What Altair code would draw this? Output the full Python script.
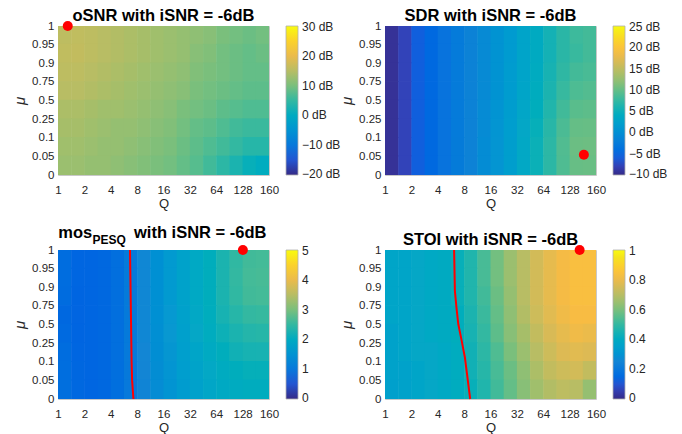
import altair as alt
import pandas as pd

# ---------------- data ----------------
Q_LABELS = ["1", "2", "4", "8", "16", "32", "64", "128", "160"]
MU_LABELS = ["0", "0.05", "0.1", "0.25", "0.5", "0.75", "0.9", "0.95", "1"]

# cell values: 8 mu-bands (top -> bottom), 16 half-steps along Q
OSNR = [
    [15.5, 15.8, 15.5, 15.0, 14.5, 14.0, 13.5, 13.0, 12.5, 12.0, 11.5, 11.0, 10.0, 9.5, 9.0, 9.5],
    [15.8, 16.0, 15.5, 15.0, 14.5, 14.0, 13.5, 13.0, 12.5, 12.0, 11.0, 10.5, 9.5, 9.0, 8.5, 9.0],
    [15.5, 15.5, 15.0, 14.5, 14.0, 13.5, 13.0, 12.5, 12.0, 11.5, 10.5, 10.0, 9.5, 9.0, 8.5, 8.5],
    [15.0, 15.0, 14.5, 14.0, 13.5, 13.0, 12.5, 12.0, 11.5, 11.0, 10.0, 9.5, 9.0, 8.5, 8.0, 8.0],
    [14.0, 14.0, 13.5, 13.0, 13.0, 12.5, 12.0, 11.5, 11.0, 10.0, 9.5, 9.0, 8.0, 7.5, 7.0, 7.0],
    [13.5, 13.5, 13.0, 12.5, 12.0, 12.0, 11.5, 11.0, 10.5, 9.5, 8.5, 8.0, 7.0, 6.0, 5.5, 5.5],
    [13.0, 13.0, 12.5, 12.0, 12.0, 11.5, 11.0, 10.5, 10.0, 9.0, 8.0, 7.0, 6.0, 5.0, 4.0, 4.0],
    [12.5, 12.5, 12.0, 12.0, 11.5, 11.0, 10.5, 10.0, 9.5, 8.5, 7.5, 6.0, 4.5, 3.0, 1.5, 0.5],
]
SDR = [
    [-9.3, -7.8, -5.8, -4.8, -3.6, -2.6, -1.6, -0.5, 0.5, 1.5, 2.8, 4.0, 5.5, 7.0, 8.0, 8.3],
    [-9.3, -7.8, -5.8, -4.8, -3.6, -2.6, -1.6, -0.5, 0.5, 1.5, 2.8, 4.0, 5.5, 7.0, 7.8, 8.3],
    [-9.3, -7.8, -5.8, -4.8, -3.6, -2.6, -1.6, -0.5, 0.5, 1.6, 2.9, 4.2, 5.8, 7.3, 8.3, 8.6],
    [-9.3, -7.8, -5.8, -4.8, -3.6, -2.6, -1.6, -0.5, 0.5, 1.7, 3.0, 4.4, 6.1, 7.7, 8.8, 9.1],
    [-9.3, -7.8, -5.8, -4.8, -3.6, -2.6, -1.6, -0.4, 0.6, 1.8, 3.2, 4.7, 6.5, 8.2, 9.4, 9.6],
    [-9.3, -7.8, -5.8, -4.8, -3.6, -2.6, -1.5, -0.4, 0.7, 1.9, 3.4, 5.0, 6.9, 8.7, 10.0, 10.1],
    [-9.3, -7.8, -5.8, -4.8, -3.6, -2.5, -1.5, -0.3, 0.8, 2.0, 3.5, 5.2, 7.1, 9.0, 10.3, 10.4],
    [-9.3, -7.8, -5.8, -4.8, -3.6, -2.5, -1.5, -0.3, 0.8, 2.0, 3.5, 5.2, 7.1, 8.9, 10.1, 10.2],
]
PESQ = [
    [0.80, 0.68, 0.68, 0.72, 0.85, 1.05, 1.30, 1.45, 1.62, 1.80, 1.95, 2.10, 2.30, 2.48, 2.60, 2.62],
    [0.80, 0.68, 0.68, 0.72, 0.85, 1.05, 1.30, 1.45, 1.62, 1.80, 1.95, 2.10, 2.30, 2.50, 2.62, 2.64],
    [0.78, 0.67, 0.68, 0.72, 0.85, 1.05, 1.30, 1.45, 1.62, 1.80, 1.95, 2.10, 2.30, 2.48, 2.60, 2.62],
    [0.72, 0.66, 0.68, 0.72, 0.85, 1.05, 1.30, 1.45, 1.60, 1.78, 1.93, 2.08, 2.25, 2.40, 2.50, 2.52],
    [0.75, 0.67, 0.68, 0.72, 0.85, 1.05, 1.30, 1.44, 1.58, 1.75, 1.90, 2.04, 2.18, 2.30, 2.38, 2.40],
    [0.80, 0.68, 0.68, 0.72, 0.85, 1.04, 1.28, 1.42, 1.56, 1.72, 1.86, 1.98, 2.10, 2.20, 2.25, 2.26],
    [0.82, 0.70, 0.68, 0.72, 0.84, 1.03, 1.26, 1.40, 1.54, 1.70, 1.82, 1.92, 2.03, 2.10, 2.14, 2.14],
    [0.84, 0.72, 0.68, 0.72, 0.84, 1.02, 1.24, 1.38, 1.52, 1.66, 1.78, 1.88, 1.96, 2.02, 2.06, 2.06],
]
STOI = [
    [0.37, 0.37, 0.38, 0.39, 0.40, 0.43, 0.47, 0.53, 0.59, 0.65, 0.70, 0.75, 0.79, 0.82, 0.84, 0.84],
    [0.37, 0.37, 0.38, 0.39, 0.40, 0.43, 0.47, 0.53, 0.59, 0.65, 0.70, 0.75, 0.79, 0.82, 0.84, 0.84],
    [0.37, 0.37, 0.38, 0.39, 0.40, 0.43, 0.47, 0.52, 0.58, 0.64, 0.70, 0.75, 0.79, 0.82, 0.84, 0.84],
    [0.37, 0.37, 0.38, 0.39, 0.40, 0.42, 0.46, 0.51, 0.57, 0.63, 0.69, 0.74, 0.78, 0.81, 0.83, 0.83],
    [0.36, 0.37, 0.38, 0.39, 0.40, 0.42, 0.45, 0.50, 0.56, 0.62, 0.67, 0.72, 0.76, 0.79, 0.81, 0.80],
    [0.36, 0.37, 0.38, 0.38, 0.39, 0.41, 0.44, 0.49, 0.54, 0.60, 0.65, 0.70, 0.74, 0.77, 0.78, 0.77],
    [0.36, 0.36, 0.37, 0.38, 0.39, 0.41, 0.44, 0.48, 0.53, 0.58, 0.63, 0.68, 0.72, 0.74, 0.75, 0.72],
    [0.35, 0.36, 0.37, 0.38, 0.39, 0.41, 0.43, 0.47, 0.52, 0.57, 0.62, 0.66, 0.69, 0.71, 0.70, 0.64],
]

# best-point markers (Q index position, mu index position)
DOT_X = [0.37, 7.54, 7.01, 7.38]
DOT_Y = [8.0, 1.09, 8.0, 8.0]

# red threshold contours (Q index, mu index)
PESQ_LINE_X = [2.73, 2.75, 2.77, 2.79, 2.81, 2.86]
PESQ_LINE_Y = [8.0, 6.0, 4.0, 2.0, 1.0, 0.0]
STOI_LINE_X = [2.62, 2.65, 2.71, 2.78, 2.91, 3.03, 3.11, 3.23]
STOI_LINE_Y = [8.0, 5.80, 4.90, 4.01, 3.11, 2.22, 1.33, 0.0]

TITLES = ["oSNR with iSNR = -6dB", "SDR with iSNR = -6dB", "with iSNR = -6dB", "STOI with iSNR = -6dB"]
DOMAINS = [(-20, 30), (-10, 25), (0, 5), (0, 1)]
CBAR_TICKS = [
    [-20, -10, 0, 10, 20, 30],
    [-10, -5, 0, 5, 10, 15, 20, 25],
    [0, 1, 2, 3, 4, 5],
    [0, 0.2, 0.4, 0.6, 0.8, 1],
]
CBAR_SUFFIX = [" dB", " dB", "", ""]
CBAR_ROUND = [1, 1, 1, 10]

PARULA = ["#352a87", "#3243ba", "#0363e1", "#0d75dc", "#1485d4", "#0998d1",
          "#06a7c6", "#15b1b4", "#38b99e", "#65be86", "#92bf73", "#b7bd64",
          "#d9ba56", "#f8bb44", "#fcce2e", "#f5e41d", "#f9fb0e"]
PARULA_POS = [0, 4, 8, 12, 16, 20, 24, 28, 32, 36, 40, 44, 48, 52, 56, 60, 63]

W, H = 211, 149
FONT = "Liberation Sans"
TXT = "#262626"
OVER = 0.02  # tiny overlap between neighbouring cells so no seams show
END_INSET = 0.004  # keeps the end labels centred on their ticks


def grid_df(vals):
    rows = []
    for r, row in enumerate(vals):
        yi = 7 - r
        for c, v in enumerate(row):
            rows.append({"x0": c * 0.5, "x1": min(c * 0.5 + 0.5 + OVER, 8),
                         "y0": yi, "y1": min(yi + 1 + OVER * 2, 8), "v": v})
    return pd.DataFrame(rows)


def qexpr(labels):
    return "[" + ",".join("'%s'" % s for s in labels) + "][datum.value]"


X_ENC = alt.X("x0:Q", scale=alt.Scale(domain=[0, 8], nice=False, zero=False),
              axis=alt.Axis(values=list(range(9)), labelExpr=qexpr(Q_LABELS), title="Q",
                            ticks=False, domain=False, grid=False, labelPadding=9,
                            labelFontSize=11.5, labelColor=TXT, labelFont=FONT,
                            titleFont=FONT, titleFontSize=13, titleFontWeight="normal",
                            titleColor=TXT, titlePadding=2, labelFlush=False))
Y_ENC = alt.Y("y0:Q", scale=alt.Scale(domain=[0, 8], nice=False, zero=False),
              axis=alt.Axis(values=list(range(9)), labelExpr=qexpr(MU_LABELS), title="μ",
                            ticks=False, domain=False, grid=False, labelPadding=4,
                            labelFontSize=11.5, labelColor=TXT, labelFont=FONT,
                            titleFont=FONT, titleFontSize=15, titleFontStyle="italic",
                            titleFontWeight="normal", titleColor=TXT, titlePadding=4,
                            labelFlush=False))


def panel(k, vals, line=None):
    lo, hi = DOMAINS[k]
    dom = [lo + (hi - lo) * p / 63 for p in PARULA_POS]
    cscale = alt.Scale(domain=dom, range=PARULA, clamp=True)
    suffix = CBAR_SUFFIX[k]
    span = hi - lo
    ticks = [t + END_INSET * span if t == lo else (t - END_INSET * span if t == hi else t)
             for t in CBAR_TICKS[k]]
    rnd = CBAR_ROUND[k]
    legend = alt.Legend(
        title=None, orient="right", offset=17, direction="vertical", type="gradient",
        values=ticks, gradientLength=H, gradientThickness=12,
        gradientStrokeColor="#b0b0b0", gradientStrokeWidth=0.8,
        labelExpr="format(round(datum.value * %d) / %d, '~g') + '%s'" % (rnd, rnd, suffix),
        labelFont=FONT, labelFontSize=12, labelColor=TXT, labelOffset=4,
        labelOverlap=False, labelBaseline="middle",
    )
    heat = alt.Chart(grid_df(vals)).mark_rect(clip=True).encode(
        x=X_ENC, x2="x1:Q", y=Y_ENC, y2="y1:Q",
        color=alt.Color("v:Q", scale=cscale, legend=legend),
    )
    layers = [heat]
    if line is not None:
        ldf = pd.DataFrame({"x0": line[0], "y0": line[1], "o": list(range(len(line[0])))})
        layers.append(alt.Chart(ldf).mark_line(color="#ff0000", strokeWidth=2).encode(
            x=X_ENC, y=Y_ENC, order="o:Q"))
    ddf = pd.DataFrame({"x0": [DOT_X[k]], "y0": [DOT_Y[k]]})
    layers.append(alt.Chart(ddf).mark_circle(color="#ff0000", size=100, opacity=1).encode(
        x=X_ENC, y=Y_ENC))
    if k == 2:
        parts = [("mos", 0.3, -12.5, 16.5), ("PESQ", 34.5, -6, 12), (TITLES[k], 76, -12.5, 16.5)]
        for txt, px, py, fs in parts:
            layers.append(alt.Chart(pd.DataFrame({"t": [txt]})).mark_text(
                font=FONT, fontWeight="bold", fontSize=fs, color="#000000",
                align="left", baseline="alphabetic").encode(
                text="t:N", x=alt.value(px), y=alt.value(py)))
    else:
        layers.append(alt.Chart(pd.DataFrame({"t": [TITLES[k]]})).mark_text(
            font=FONT, fontWeight="bold", fontSize=16.5, color="#000000",
            align="center", baseline="alphabetic").encode(
            text="t:N", x=alt.value(W / 2), y=alt.value(-5.5)))
    return alt.layer(*layers).properties(width=W, height=H)


panels = [
    panel(0, OSNR),
    panel(1, SDR),
    panel(2, PESQ, (PESQ_LINE_X, PESQ_LINE_Y)),
    panel(3, STOI, (STOI_LINE_X, STOI_LINE_Y)),
]

chart = alt.ConcatChart(
    concat=panels, columns=2, spacing=alt.RowColnumber(row=75, column=116), bounds="flush"
).resolve_scale(
    color="independent", x="independent", y="independent"
).resolve_legend(color="independent").configure_view(
    stroke="#c8c8c8", strokeWidth=1
).properties(background="white", padding={"top": -1, "left": 4, "right": 5, "bottom": 5})

chart.save("out.html", embed_options={"renderer": "svg", "actions": False})
